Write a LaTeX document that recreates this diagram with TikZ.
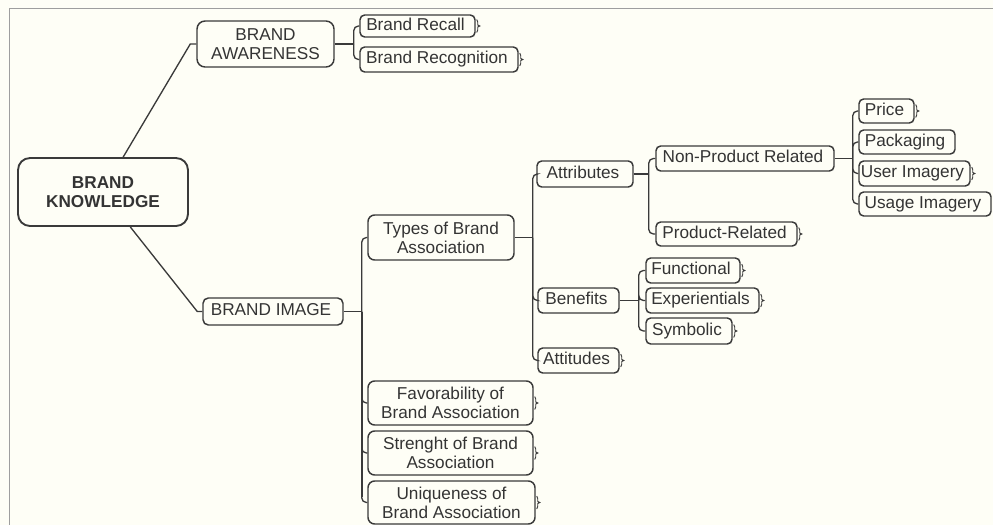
\documentclass[tikz,border=0pt]{standalone}
\usepackage{fontspec}
\setmainfont{Liberation Sans}
\usetikzlibrary{calc}
\definecolor{paper}{RGB}{254,254,246}
\definecolor{ink}{RGB}{52,52,52}
\definecolor{edge}{RGB}{58,58,58}
\definecolor{frame}{RGB}{158,158,158}
\tikzset{
  topic/.style={draw=edge, line width=1.1pt, fill=paper, text=ink, inner sep=0pt,
    align=center, rounded corners=3.5pt, font=\fontsize{12.9}{14.3}\selectfont},
  single/.style={text height=9.4pt, text depth=3.4pt},
  link/.style={draw=edge, line width=1pt},
  branch/.style={link, rounded corners=3.5pt},
  tk/.style={draw=edge, line width=0.7pt},
}
% \topicbox[style]{name}{x1}{y1}{x2}{y2}{text}  (pixel corners)
\newcommand\topicbox[7][]{%
  \node[topic,#1,minimum width={(#5-#3)*0.75pt},minimum height={(#6-#4)*0.75pt}]
    (#2) at ({(#3+#5)/2},{(#4+#6)/2}) {#7};}
% small brace marking a collapsed leaf
\newcommand\leaftick[1]{%
  \draw[tk] ($(#1.east)+(1,-6.5)$) .. controls ($(#1.east)+(2,-6)$) and ($(#1.east)+(2,-5)$) ..
    ($(#1.east)+(2,-4)$) -- ($(#1.east)+(2,-1)$) -- ($(#1.east)+(4,0)$) -- ($(#1.east)+(2,1)$)
    -- ($(#1.east)+(2,4)$) .. controls ($(#1.east)+(2,5)$) and ($(#1.east)+(2,6)$) ..
    ($(#1.east)+(1,6.5)$);}
\begin{document}
\begin{tikzpicture}[x=0.75pt,y=-0.75pt]
\useasboundingbox (0,0) rectangle (993,525);
\fill[paper] (0,0) rectangle (993,525);
\draw[frame, line width=1.3pt] (9.5,525) -- (9.5,8.5) -- (993,8.5);

% central topic and main branches
\topicbox[rounded corners=9pt, line width=1.4pt, font=\fontsize{12.9}{14.3}\selectfont\bfseries]{bk}{18}{158}{188}{226}{BRAND\\KNOWLEDGE}
\topicbox[rounded corners=6pt]{ba}{197}{21}{334}{67}{BRAND\\AWARENESS}
\topicbox[single,rounded corners=4pt]{bi}{203}{298}{343}{325}{BRAND IMAGE\kern3pt}

% awareness
\topicbox[single]{brc}{360}{15}{475}{37}{Brand Recall\kern3pt}
\topicbox[single]{brg}{360}{47}{518}{72}{Brand Recognition\kern3pt}

% image
\topicbox[rounded corners=5pt]{tba}{368}{215}{514}{260}{Types of Brand\\Association}
\topicbox[rounded corners=5pt]{fav}{368}{381}{533}{425}{Favorability of\\Brand Association}
\topicbox[rounded corners=5pt]{str}{368}{431}{533}{475}{Strenght of Brand\\Association}
\topicbox[rounded corners=5pt]{uni}{368}{481}{535}{524}{Uniqueness of\\Brand Association}

% types of association
\topicbox[single]{att}{537}{161}{633}{187}{Attributes\kern3pt}
\topicbox[single]{ben}{538}{288}{619}{313}{Benefits\kern3pt}
\topicbox[single]{atd}{538}{348}{619}{373}{Attitudes\kern3pt}

% attributes
\topicbox[single]{npr}{656}{146}{834}{171}{Non-Product Related\kern3pt}
\topicbox[single]{pr}{656}{222}{797}{246}{Product-Related\kern3pt}
\topicbox[single]{price}{859}{99}{914}{123}{Price\kern3pt}
\topicbox[single]{pack}{859}{130}{955}{154}{Packaging\kern3pt}
\topicbox[single]{user}{859}{161}{970}{186}{User Imagery\kern3pt}
\topicbox[single]{usage}{859}{192}{991}{216}{Usage Imagery\kern3pt}

% benefits
\topicbox[single]{fun}{646}{258}{740}{283}{Functional\kern3pt}
\topicbox[single]{exp}{646}{288}{759}{313}{Experientials\kern3pt}
\topicbox[single]{sym}{646}{318}{732}{344}{Symbolic\kern3pt}

% central connectors
\draw[link] (bk.60) -- ($(ba.west)+(-6,0)$) -- (ba.west);
\draw[link] (bk.-52) -- ($(bi.west)+(-5,0)$) -- (bi.west);

% bracket connectors
\draw[link] (ba.east) -- ++(19,0) coordinate (jba);
\foreach \c in {brc,brg} {\draw[branch] (jba) |- (\c.west);}

\draw[link] (bi.east) -- ++(18,0) coordinate (jbi);
\foreach \c in {tba,fav,str,uni} {\draw[branch] (jbi) |- (\c.west);}
\draw[link, line width=1.5pt] (jbi) -- ($(jbi |- uni.west)+(0,-6)$);

\draw[link] (tba.east) -- ++(18,0) coordinate (jtb);
\foreach \c in {att,ben,atd} {\draw[branch] (jtb) |- (\c.west);}

\draw[link] (att.east) -- ++(15,0) coordinate (jat);
\foreach \c in {npr,pr} {\draw[branch] (jat) |- (\c.west);}

\draw[link] (npr.east) -- ++(18,0) coordinate (jnp);
\foreach \c in {price,pack,user,usage} {\draw[branch] (jnp) |- (\c.west);}

\draw[link] (ben.east) -- ++(19,0) coordinate (jbe);
\foreach \c in {fun,exp,sym} {\draw[branch] (jbe) |- (\c.west);}

% leaf markers
\foreach \c in {brc,brg,price,user,pr,fun,exp,sym,atd,fav,str,uni} {\leaftick{\c}}
\end{tikzpicture}
\end{document}
